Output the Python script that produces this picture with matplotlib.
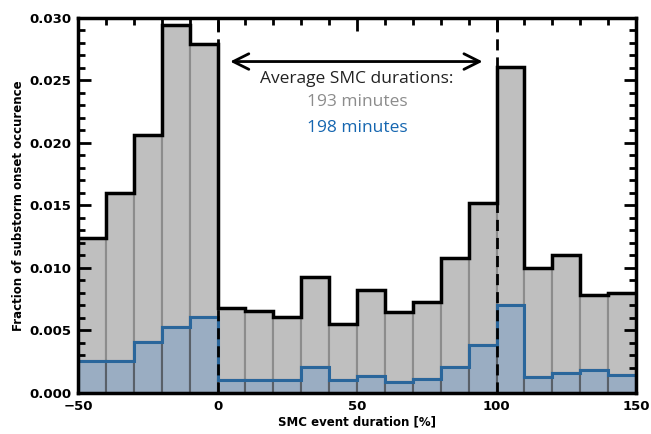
import numpy as np
import matplotlib
matplotlib.use("Agg")
import matplotlib.pyplot as plt
from matplotlib.ticker import MultipleLocator

# bin edges in % of SMC event duration
edges = np.arange(-50, 151, 10)

# all substorm onsets (gray) and the subset (blue)
all_frac = [0.0124, 0.0160, 0.0206, 0.0294, 0.0279,
            0.00675, 0.00656, 0.00605, 0.00923, 0.0055,
            0.00824, 0.0065, 0.00726, 0.01077, 0.0152,
            0.0261, 0.0100, 0.0110, 0.0078, 0.0080]
sub_frac = [0.00256, 0.00256, 0.00405, 0.0053, 0.00608,
            0.00104, 0.00104, 0.00104, 0.00203, 0.00104,
            0.00136, 0.00083, 0.0011, 0.0021, 0.00384,
            0.00704, 0.0013, 0.00157, 0.00184, 0.00139]

avg_label = "Average SMC durations:"
avg_all = "193 minutes"
avg_sub = "198 minutes"

gray_fill = "#bfbfbf"
blue_fill = "#9aadc2"
blue_line = "#2a669b"

fig = plt.figure(figsize=(6.51, 4.34), dpi=100)
ax = fig.add_axes([0.12, 0.095, 0.857, 0.864])

width = np.diff(edges)
ax.bar(edges[:-1], all_frac, width=width, align="edge", color=gray_fill,
       edgecolor="#8c8c8c", linewidth=1.5, zorder=1)
ax.bar(edges[:-1], sub_frac, width=width, align="edge", color=blue_fill,
       edgecolor="#596068", linewidth=1.5, zorder=2)
ax.stairs(all_frac, edges, color="black", linewidth=2.5, baseline=None, zorder=3)
ax.stairs(sub_frac, edges, color=blue_line, linewidth=2.2, baseline=0, zorder=3)

for xv in (0, 100):
    ax.axvline(xv, color="black", linestyle=(0, (4, 2.5)), linewidth=2, zorder=4)

ax.annotate("", xy=(4.5, 0.0265), xytext=(95, 0.0265),
            arrowprops=dict(arrowstyle="<->", color="black", lw=2,
                            mutation_scale=28, shrinkA=0, shrinkB=0))

tfont = dict(family=["Open Sans", "DejaVu Sans"], fontsize=12.5, ha="center", va="center")
ax.text(50, 0.0251, avg_label, color="#222222", **tfont)
ax.text(50, 0.0233, avg_all, color="#8c8c8c", **tfont)
ax.text(50, 0.0212, avg_sub, color="#1566b0", **tfont)

ax.set_xlim(-50, 150)
ax.set_ylim(0, 0.030)
ax.xaxis.set_major_locator(MultipleLocator(50))
ax.xaxis.set_minor_locator(MultipleLocator(10))
ax.yaxis.set_major_locator(MultipleLocator(0.005))
ax.yaxis.set_minor_locator(MultipleLocator(0.001))
ax.yaxis.set_major_formatter(plt.FormatStrFormatter("%.3f"))
ax.tick_params(which="both", direction="in", top=True, right=True, width=2)
ax.tick_params(which="major", length=9, pad=5)
ax.tick_params(which="minor", length=5)
for lab in ax.get_xticklabels() + ax.get_yticklabels():
    lab.set_fontweight("bold")
    lab.set_fontsize(9.5)
for s in ax.spines.values():
    s.set_linewidth(2.5)
    s.set_zorder(5)

ax.set_xlabel("SMC event duration [%]", fontsize=8.5, fontweight="bold", labelpad=2)
ax.set_ylabel("Fraction of substorm onset occurence", fontsize=8.5, fontweight="bold", labelpad=3)

fig.savefig("out.png", dpi=100)
